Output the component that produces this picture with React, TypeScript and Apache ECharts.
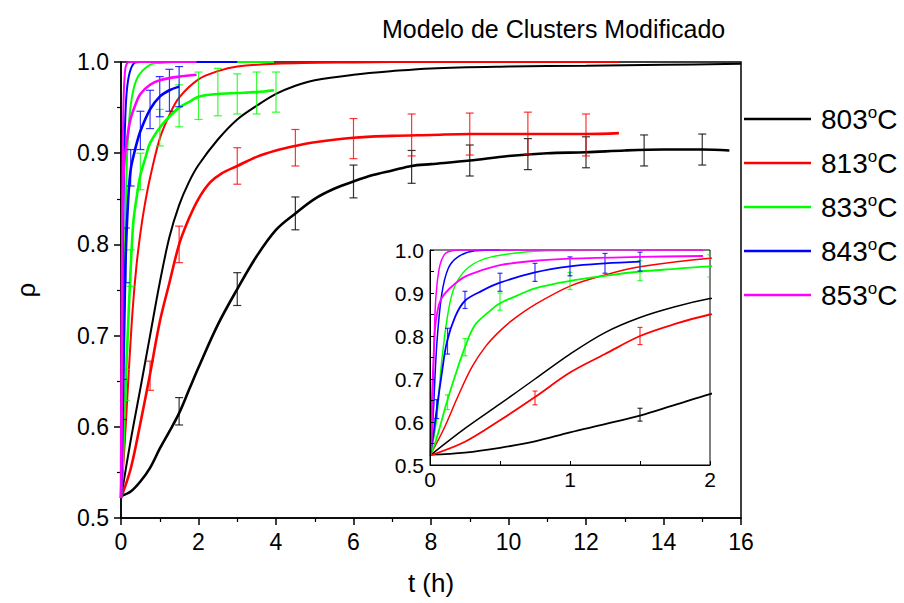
import React, { useEffect, useRef } from 'react';
import * as echarts from 'echarts';

// ---- Data (t in hours, rho) ----
const temps = ['803°C', '813°C', '833°C', '843°C', '853°C'];
const colors = ['#000000', '#ff0000', '#00ff00', '#0000ff', '#ff00ff'];

const data803: number[][] = [[0,0.524],[0.25,0.529],[0.5,0.54],[0.75,0.555],[1,0.576],[1.25,0.595],[1.5,0.615],[1.75,0.64],[2,0.665],[2.5,0.712],[3,0.751],[3.5,0.787],[4,0.816],[4.5,0.834],[5,0.85],[5.5,0.861],[6,0.869],[6.5,0.876],[7,0.881],[7.5,0.886],[8,0.888],[9,0.892],[10,0.897],[11,0.9],[12,0.901],[13,0.903],[14,0.904],[15,0.904],[15.7,0.903]];
const model803: number[][] = [[0,0.522],[0.25,0.585],[0.5,0.642],[0.75,0.7],[1,0.758],[1.25,0.808],[1.5,0.843],[1.75,0.868],[2,0.887],[2.5,0.915],[3,0.937],[3.5,0.952],[4,0.965],[4.5,0.974],[5,0.98],[6,0.986],[7,0.99],[8,0.993],[10,0.995],[12,0.996],[14,0.997],[16,0.998]];

const data813: number[][] = [[0,0.522],[0.25,0.554],[0.5,0.604],[0.75,0.658],[1,0.715],[1.25,0.758],[1.5,0.8],[1.75,0.828],[2,0.85],[2.3,0.868],[2.6,0.878],[3,0.886],[3.5,0.896],[4,0.903],[4.5,0.908],[5,0.912],[6,0.917],[7,0.919],[8,0.92],[9,0.921],[10,0.921],[11,0.921],[12,0.921],[12.85,0.922]];
const model813: number[][] = [[0,0.522],[0.1,0.585],[0.2,0.66],[0.3,0.728],[0.4,0.777],[0.5,0.812],[0.6,0.84],[0.75,0.873],[1,0.916],[1.25,0.942],[1.5,0.961],[2,0.981],[2.5,0.99],[3,0.995],[4,0.998],[6,0.9995],[8,1.0],[12.85,1.0]];

const data833: number[][] = [[0,0.522],[0.03,0.545],[0.06,0.576],[0.12,0.646],[0.18,0.708],[0.25,0.774],[0.32,0.825],[0.42,0.856],[0.5,0.876],[0.63,0.895],[0.75,0.911],[1,0.928],[1.25,0.94],[1.5,0.95],[1.75,0.956],[2,0.962],[2.5,0.965],[3,0.966],[3.5,0.967],[3.95,0.969]];
const model833: number[][] = [[0,0.522],[0.025,0.56],[0.05,0.615],[0.083,0.739],[0.13,0.856],[0.18,0.918],[0.28,0.961],[0.44,0.984],[0.75,0.997],[1,0.999],[1.5,1.0],[3.95,1.0]];

const data843: number[][] = [[0,0.522],[0.024,0.57],[0.048,0.63],[0.083,0.71],[0.12,0.785],[0.18,0.845],[0.25,0.882],[0.37,0.905],[0.5,0.924],[0.75,0.948],[1,0.962],[1.25,0.969],[1.5,0.973]];
const model843: number[][] = [[0,0.522],[0.012,0.56],[0.024,0.623],[0.048,0.778],[0.083,0.895],[0.13,0.957],[0.2,0.984],[0.32,0.998],[0.5,1.0],[3,1.0]];

const data853: number[][] = [[0,0.522],[0.006,0.58],[0.012,0.64],[0.024,0.74],[0.036,0.817],[0.05,0.852],[0.071,0.88],[0.107,0.899],[0.18,0.922],[0.25,0.938],[0.37,0.953],[0.5,0.965],[0.75,0.975],[1,0.98],[1.5,0.984],[1.95,0.986]];
const model853: number[][] = [[0,0.522],[0.012,0.545],[0.024,0.7],[0.036,0.856],[0.05,0.92],[0.071,0.965],[0.1,0.988],[0.13,0.996],[0.2,1.0],[1.95,1.0]];

// error bars: [t, rho, half-width]
const err803: number[][] = [[1.5,0.617,0.015],[3,0.751,0.018],[4.5,0.834,0.018],[6,0.869,0.018],[7.5,0.885,0.018],[9,0.892,0.017],[10.5,0.899,0.017],[12,0.901,0.017],[13.5,0.903,0.017],[15,0.904,0.017]];
const err813: number[][] = [[0.75,0.656,0.016],[1.5,0.8,0.02],[3,0.886,0.02],[4.5,0.906,0.02],[6,0.916,0.022],[7.5,0.92,0.023],[9,0.921,0.023],[10.5,0.922,0.023],[12,0.92,0.023]];
const err833: number[][] = [[0.125,0.646,0.017],[0.25,0.774,0.02],[0.5,0.88,0.02],[1,0.928,0.02],[1.5,0.952,0.023],[2,0.963,0.026],[2.5,0.967,0.026],[3,0.965,0.022],[3.5,0.966,0.023],[4,0.967,0.022]];
const err843: number[][] = [[0.048,0.63,0.022],[0.125,0.788,0.03],[0.25,0.884,0.02],[0.5,0.925,0.021],[0.75,0.948,0.021],[1,0.962,0.022],[1.25,0.969,0.023],[1.5,0.973,0.022]];

const mainXTicks = { min: 0, max: 16, interval: 2 };
const mainYTicks = { min: 0.5, max: 1.0, interval: 0.1 };
const insetXTicks = { min: 0, max: 2, interval: 1 };
const titleText = 'Modelo de Clusters Modificado';
const xName = 't (h)';
const yName = 'ρ';

const dataSets = [data803, data813, data833, data843, data853];
const modelSets = [model803, model813, model833, model843, model853];
const errSets = [err803, err813, err833, err843, []];

const FONT = '"Liberation Sans", Arial, Helvetica, sans-serif';
const SMOOTH = 0.35;

function errSeries(name: string, color: string, data: number[][], axisIdx: number, cap: number, z: number) {
  return {
    type: 'custom',
    name: name + ' err',
    xAxisIndex: axisIdx,
    yAxisIndex: axisIdx,
    z,
    clip: true,
    encode: { x: 0, y: 1 },
    data,
    renderItem: (params: any, api: any) => {
      const x = api.value(0), y = api.value(1), e = api.value(2);
      const top = api.coord([x, y + e]);
      const bot = api.coord([x, y - e]);
      const st = { stroke: color, lineWidth: 1.2, opacity: 0.8 };
      return {
        type: 'group',
        children: [
          { type: 'line', shape: { x1: top[0], y1: top[1], x2: bot[0], y2: bot[1] }, style: st },
          { type: 'line', shape: { x1: top[0] - cap, y1: top[1], x2: top[0] + cap, y2: top[1] }, style: st },
          { type: 'line', shape: { x1: bot[0] - cap, y1: bot[1], x2: bot[0] + cap, y2: bot[1] }, style: st },
        ],
      };
    },
  };
}

function lineSeries(name: string, data: number[][], color: string, width: number, axisIdx: number, z: number) {
  return {
    type: 'line', name, data, xAxisIndex: axisIdx, yAxisIndex: axisIdx,
    showSymbol: false, symbol: 'none', smooth: SMOOTH,
    lineStyle: { color, width }, itemStyle: { color }, z,
  };
}

export default function App() {
  const ref = useRef<HTMLDivElement>(null);
  useEffect(() => {
    if (!ref.current) return;
    const chart = echarts.init(ref.current, undefined, { renderer: 'svg' });
    const series: any[] = [];
    temps.forEach((name, i) => {
      const c = colors[i];
      series.push(lineSeries(name + ' model', modelSets[i], c, 2, 0, 2 + i));
      series.push(lineSeries(name, dataSets[i], c, 2.6, 0, 2 + i));
      if (errSets[i].length) series.push(errSeries(name, c, errSets[i], 0, 4, 2 + i));
      series.push(lineSeries(name + ' model inset', modelSets[i].filter(p => p[0] <= 2.6), c, 1.5, 1, 20 + i));
      series.push(lineSeries(name + ' inset', dataSets[i].filter(p => p[0] <= 2.6), c, 1.8, 1, 20 + i));
      if (errSets[i].length) series.push(errSeries(name + ' inset', c, errSets[i].filter(p => p[0] <= 2), 1, 2.5, 20 + i));
    });

    const option: any = {
      animation: false,
      backgroundColor: '#ffffff',
      textStyle: { fontFamily: FONT },
      graphic: [
        { type: 'text', left: 382, top: 16, z: 100, style: { text: titleText, font: `25px ${FONT}`, fill: '#000' } },
      ],
      legend: {
        orient: 'vertical',
        left: 744,
        top: 104,
        padding: 0,
        itemWidth: 67,
        itemHeight: 2.5,
        itemGap: 14,
        data: temps,
        icon: 'rect',
        selectedMode: false,
        formatter: (n: string) => n.replace('°C', '') + '{sup|o}C',
        textStyle: {
          fontFamily: FONT, fontSize: 28, color: '#000', lineHeight: 30, padding: [0, 0, 0, 5],
          rich: { sup: { fontFamily: FONT, fontSize: 17, lineHeight: 17, verticalAlign: 'top', color: '#000' } },
        },
      },
      grid: [
        { left: 121, top: 62, width: 620, height: 456, show: true, borderColor: '#000', borderWidth: 1.5, backgroundColor: 'transparent' },
        { left: 430, top: 250, width: 280, height: 215, show: true, borderColor: '#000', borderWidth: 1, backgroundColor: '#ffffff', z: 10 },
      ],
      xAxis: [
        {
          type: 'value', gridIndex: 0, ...mainXTicks,
          name: xName, nameLocation: 'middle', nameGap: 52, nameTextStyle: { fontSize: 26, color: '#000', fontFamily: FONT },
          axisLine: { show: true, onZero: false, lineStyle: { color: '#000', width: 1.5 } },
          axisTick: { show: true, inside: false, length: 7, lineStyle: { color: '#000', width: 1.5 } },
          minorTick: { show: true, splitNumber: 2, length: 4, lineStyle: { color: '#000', width: 1.2 } },
          splitLine: { show: false },
          axisLabel: { fontSize: 23, color: '#000', margin: 12, fontFamily: FONT },
        },
        {
          type: 'value', gridIndex: 1, ...insetXTicks, z: 30,
          axisLine: { show: true, onZero: false, lineStyle: { color: '#000', width: 1 } },
          axisTick: { show: true, inside: true, length: 4, lineStyle: { color: '#000' } },
          minorTick: { show: true, splitNumber: 2, length: 4, lineStyle: { color: '#000' } },
          splitLine: { show: false },
          axisLabel: { fontSize: 21, color: '#000', margin: 4, fontFamily: FONT },
        },
      ],
      yAxis: [
        {
          type: 'value', gridIndex: 0, ...mainYTicks,
          name: yName, nameLocation: 'middle', nameGap: 82, nameTextStyle: { fontSize: 26, color: '#000', fontFamily: FONT },
          axisLine: { show: true, onZero: false, lineStyle: { color: '#000', width: 1.5 } },
          axisTick: { show: true, inside: false, length: 7, lineStyle: { color: '#000', width: 1.5 } },
          minorTick: { show: true, splitNumber: 2, length: 4, lineStyle: { color: '#000', width: 1.2 } },
          splitLine: { show: false },
          axisLabel: { fontSize: 23, color: '#000', margin: 12, fontFamily: FONT, formatter: (v: number) => v.toFixed(1) },
        },
        {
          type: 'value', gridIndex: 1, min: 0.5, max: 1.0, interval: 0.1, z: 30,
          axisLine: { show: true, onZero: false, lineStyle: { color: '#000', width: 1 } },
          axisTick: { show: true, inside: true, length: 4, lineStyle: { color: '#000' } },
          minorTick: { show: true, splitNumber: 2, length: 4, lineStyle: { color: '#000' } },
          splitLine: { show: false },
          axisLabel: { fontSize: 21, color: '#000', margin: 6, fontFamily: FONT, formatter: (v: number) => v.toFixed(1) },
        },
      ],
      series,
    };
    chart.setOption(option);
    return () => chart.dispose();
  }, []);
  return <div ref={ref} style={{ width: 904, height: 603, position: 'absolute', left: 0, top: 0 }} />;
}
